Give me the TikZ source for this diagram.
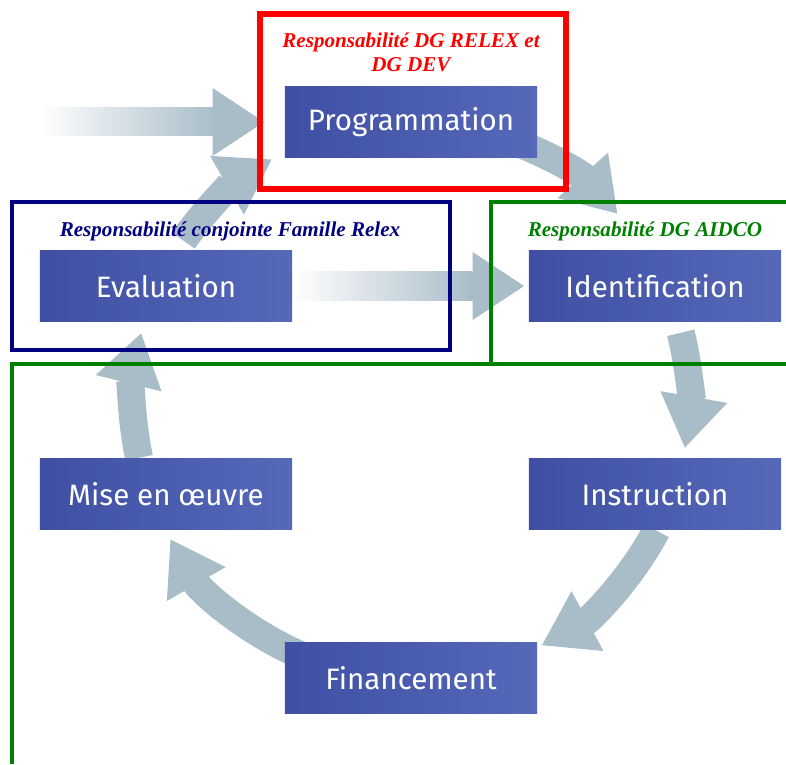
\documentclass[tikz,border=0pt]{standalone}
\usepackage{fontspec}
\setmainfont{Liberation Serif}
\newfontfamily\etapefont{Fira Sans}
\usetikzlibrary{positioning,arrows.meta,backgrounds}
\definecolor{cbleu}{HTML}{3F50A4}
\definecolor{cbleuclair}{HTML}{5668B8}
\definecolor{cfleche}{HTML}{A9BDC9}
\definecolor{crouge}{HTML}{FF0000}
\definecolor{cmarine}{HTML}{000080}
\definecolor{cvert}{HTML}{008000}

\begin{document}
\begin{tikzpicture}[x=0.025cm, y=0.025cm,
  etape/.style={minimum width=6.3cm, minimum height=1.75cm, inner sep=0pt, left color=cbleu, right color=cbleuclair, text=white, font=\etapefont\fontsize{21}{24}\selectfont},
  resp/.style={font=\bfseries\itshape\fontsize{15}{17}\selectfont, align=center},
  cadre/.style={line width=0.1cm},
  fleche/.style={line width=0.7cm, draw=cfleche, -{Triangle[width=1.6cm,length=1.3cm]}}]
  \useasboundingbox (0,0) rectangle (786,764);
  \node[etape] (prog) at (411,642) {Programmation};
  \node[etape] (eval) at (166,478) {Evaluation};
  \node[etape] (ident) at (655,478) {Identification};
  \node[etape] (mise) at (166,270) {Mise en œuvre};
  \node[etape] (instr) at (655,270) {Instruction};
  \node[etape] (fin) at (411,86) {Financement};
  \coordinate (centre) at (411,364);
  \coordinate (entree) at (40,642);
  \begin{scope}[on background layer]
    \draw[fleche] ([shift={(75:278)}]centre) arc[start angle=75, end angle=42, radius=278];
    \draw[fleche] ([shift={(14:278)}]centre) arc[start angle=14, end angle=-10, radius=278];
    \draw[fleche] ([shift={(-28:278)}]centre) arc[start angle=-28, end angle=-62, radius=278];
    \draw[fleche] ([shift={(-113:278)}]centre) arc[start angle=-113, end angle=-150, radius=278];
    \draw[fleche] ([shift={(192:278)}]centre) arc[start angle=192, end angle=166, radius=278];
    \draw[fleche] ([shift={(145:278)}]centre) arc[start angle=145, end angle=120, radius=278];
    \shade[left color=white, right color=cfleche] ([yshift=-0.35cm]entree) rectangle ([xshift=-1.75cm, yshift=0.35cm]prog.west);
    \draw[fleche] ([xshift=-1.85cm]prog.west) -- ([xshift=-0.5cm]prog.west);
    \shade[left color=white, right color=cfleche] ([yshift=-0.35cm]eval.east) rectangle ([xshift=-1.4cm, yshift=0.35cm]ident.west);
    \draw[fleche] ([xshift=-1.5cm]ident.west) -- ([xshift=-0.1cm]ident.west);
  \end{scope}
  \draw[crouge, line width=0.13cm] (260,750) rectangle (566,575);
  \draw[cadre, cmarine] (12,562) rectangle (450,414);
  \draw[cadre, cvert] (786,562) -- (491,562) -- (491,402);
  \draw[cadre, cvert] (786,400) -- (12,400) -- (12,0);
  \node[resp, crouge] (respprog) at (411,712) {Responsabilité DG RELEX et\\DG DEV};
  \node[resp, cmarine] (respeval) at (230,533) {Responsabilité conjointe Famille Relex};
  \node[resp, cvert] (respident) at (645,533) {Responsabilité DG AIDCO};
\end{tikzpicture}
\end{document}
